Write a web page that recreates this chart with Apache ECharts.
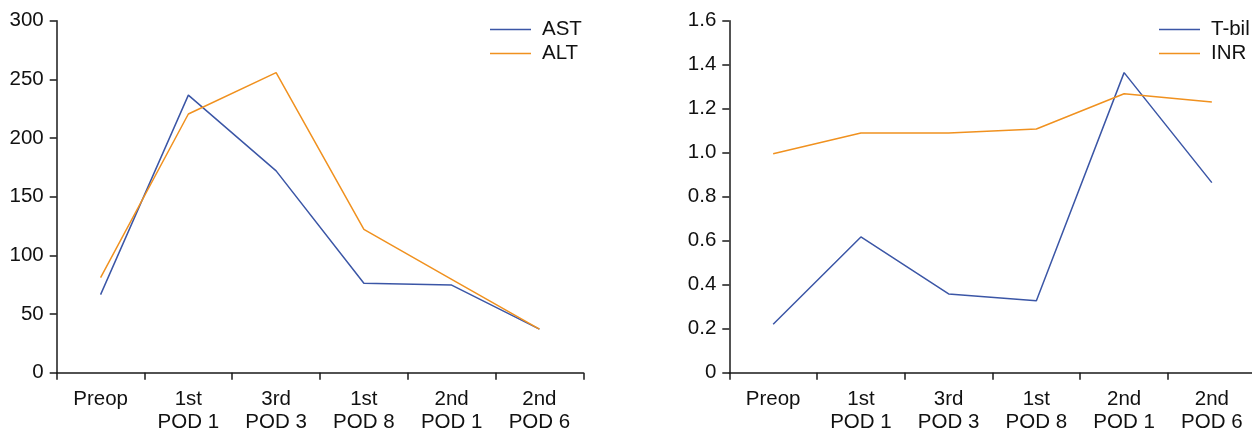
<!DOCTYPE html>
<html>
<head>
<meta charset="utf-8">
<script src="https://cdn.jsdelivr.net/npm/echarts@6/dist/echarts.min.js"></script>
<style>html,body{margin:0;padding:0;background:#fff}#c{width:1252px;height:428px}</style>
</head>
<body>
<div id="c"></div>
<script>
const categories = ['Preop', '1st\nPOD 1', '3rd\nPOD 3', '1st\nPOD 8', '2nd\nPOD 1', '2nd\nPOD 6'];
const astValues = [66.5, 236.6, 172, 76.2, 74.7, 37.2];
const altValues = [81, 220.5, 255.7, 122.2, 79.6, 37.2];
const tbilValues = [0.22, 0.617, 0.358, 0.327, 1.364, 0.864];
const inrValues = [0.995, 1.09, 1.09, 1.108, 1.268, 1.23];
const leftTicks = { min: 0, max: 300, interval: 50 };
const rightTicks = { min: 0, max: 1.6, interval: 0.2 };

const BLUE = '#3b56a6';
const ORANGE = '#f0911f';
const AXIS = '#1a1a1a';
const FONT = '"Liberation Sans", Arial, sans-serif';
const FS = 20.5;

function xAxis(gridIndex) {
  return {
    type: 'category', gridIndex, data: categories, boundaryGap: true,
    axisLine: { lineStyle: { color: AXIS, width: 1.5 } },
    axisTick: { show: true, length: 7, lineStyle: { color: AXIS, width: 1.5 } },
    axisLabel: { color: '#111', fontSize: FS, fontFamily: FONT, lineHeight: 23, margin: 15, interval: 0 },
    splitLine: { show: false }
  };
}
function yAxis(gridIndex, t, fmt) {
  return {
    type: 'value', gridIndex, min: t.min, max: t.max, interval: t.interval,
    axisLine: { show: true, lineStyle: { color: AXIS, width: 1.5 } },
    axisTick: { show: true, length: 7, lineStyle: { color: AXIS, width: 1.5 } },
    axisLabel: { color: '#111', fontSize: FS, fontFamily: FONT, margin: 13, formatter: fmt },
    splitLine: { show: false }
  };
}
function line(name, data, color, idx) {
  return {
    name, type: 'line', data, xAxisIndex: idx, yAxisIndex: idx,
    symbol: 'none', lineStyle: { color, width: 1.5 }, itemStyle: { color },
    animation: false
  };
}
function legend(names, left) {
  return {
    data: names, orient: 'vertical', left, top: 19, padding: 0, icon: 'rect', itemWidth: 41, itemHeight: 1.5, itemGap: 3,
    textStyle: { color: '#111', fontSize: FS, fontFamily: FONT, lineHeight: 20, padding: [0, 0, 0, 6] }
  };
}

const chart = echarts.init(document.getElementById('c'), null, { renderer: 'canvas' });
chart.setOption({
  animation: false,
  backgroundColor: '#fff',
  grid: [
    { left: 56.7, width: 526.6, top: 20.7, bottom: 55.3, containLabel: false, outerBoundsMode: 'none' },
    { left: 729.3, width: 526.4, top: 20.7, bottom: 55.3, containLabel: false, outerBoundsMode: 'none' }
  ],
  xAxis: [xAxis(0), xAxis(1)],
  yAxis: [
    yAxis(0, leftTicks, v => String(v)),
    yAxis(1, rightTicks, v => v === 0 ? '0' : v.toFixed(1))
  ],
  legend: [legend(['AST', 'ALT'], 490), legend(['T-bil', 'INR'], 1159)],
  series: [
    line('AST', astValues, BLUE, 0),
    line('ALT', altValues, ORANGE, 0),
    line('T-bil', tbilValues, BLUE, 1),
    line('INR', inrValues, ORANGE, 1)
  ]
});
</script>
</body>
</html>
